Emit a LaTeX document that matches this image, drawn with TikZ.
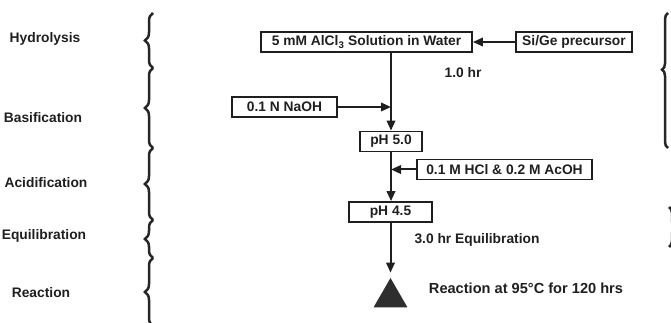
\documentclass[tikz,border=0pt]{standalone}
\usepackage{fontspec}
\setmainfont{Liberation Sans}
\usetikzlibrary{arrows.meta, positioning, shapes.geometric, decorations.pathreplacing}

\begin{document}
\begin{tikzpicture}[x=1pt, y=-1pt,
  every node/.style={font=\fontsize{13.8}{16}\selectfont\bfseries, text=black!88},
  stepbox/.style={draw=black!88, line width=1.8pt, minimum height=20pt, inner sep=1pt},
  flow/.style={-{Triangle[length=10pt,width=8.5pt]}, line width=2pt, draw=black!88},
  phase/.style={decorate, decoration={brace, amplitude=8pt}, line width=2.5pt, draw=black!85}
]
\useasboundingbox (0,0) rectangle (671,323);
% phase names on the left
\node (hyd) at (45,39) {Hydrolysis};
\node (bas) at (43,118) {Basification};
\node (aci) at (46,183) {Acidification};
\node (equ) at (44,236) {Equilibration};
\node (rea) at (41,293) {Reaction};
\draw[phase] (153,68) -- (153,13);
\draw[phase] (153,148) -- (153,68);
\draw[phase] (153,220) -- (153,148);
\draw[phase] (153,258) -- (153,220);
\draw[phase] (153,326) -- (153,258);
% cut-off braces on the right edge
\draw[phase, decoration={brace, amplitude=6pt, aspect=0.58}] (668,148) -- (668,13);
\draw[phase, decoration={brace, amplitude=6pt}] (669,207) -- (669,247);
% flow
\node[stepbox, minimum width=211pt] (alcl) at (366.5,42) {5 mM AlCl\textsubscript{3} Solution in Water};
\node[stepbox, minimum width=116pt] (sige) at (574,42) {Si/Ge precursor};
\node[stepbox, minimum width=105pt] (naoh) at (284.5,107) {0.1 N NaOH};
\node[stepbox, minimum width=62pt] (ph5) at (391,141.5) {pH 5.0};
\node[stepbox, minimum width=175pt] (hcl) at (504.5,169.5) {0.1 M HCl \& 0.2 M AcOH};
\node[stepbox, minimum width=83pt] (ph45) at (390.5,212) {pH 4.5};
\node[regular polygon, regular polygon sides=3, fill=black!82, minimum size=39pt, inner sep=0pt] (rxn) at (390.5,297.5) {};
\node (hr1) at (463,73) {1.0 hr};
\node (hr3) at (477,240) {3.0 hr Equilibration};
\node[font=\fontsize{14.6}{16}\selectfont\bfseries] (cond) at (526,288) {Reaction at 95°C for 120 hrs};
\draw[flow] (sige) -- (alcl);
\draw[flow] (alcl.south -| ph5.north) -- (ph5.north);
\draw[flow] (naoh.east) -- (naoh.east -| ph5.north);
\draw[flow] (hcl.west) -- (hcl.west -| ph5.south);
\draw[flow] (ph5.south) -- (ph5.south |- ph45.north);
\draw[flow, shorten >=5pt] (ph45.south) -- (ph45.south |- rxn.north);
\end{tikzpicture}
\end{document}
